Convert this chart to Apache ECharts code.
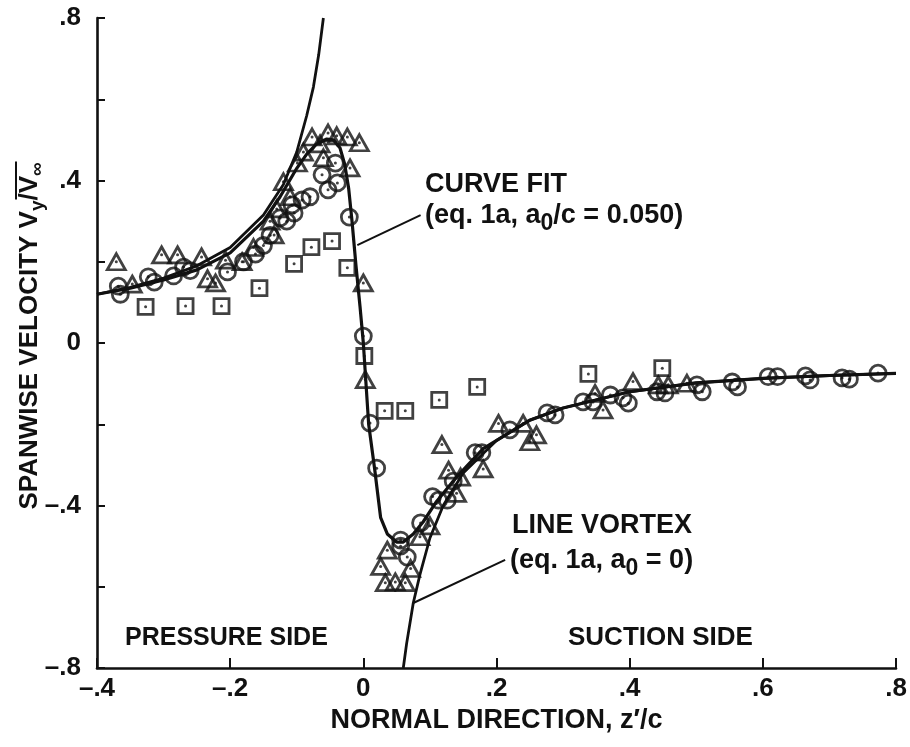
<!DOCTYPE html>
<html><head><meta charset="utf-8">
<script src="https://cdn.jsdelivr.net/npm/echarts@6/dist/echarts.min.js"></script>
<style>html,body{margin:0;padding:0;background:#fff}#c{width:910px;height:747px}</style>
</head><body><div id="c"></div>
<script>
// ---- data ----
const xTickValues = [-0.4, -0.2, 0, 0.2, 0.4, 0.6, 0.8];
const yTickValues = [-0.8, -0.4, 0, 0.4, 0.8];

const circles = [
  [-0.368,0.14],[-0.365,0.12],[-0.323,0.163],[-0.314,0.15],[-0.285,0.165],[-0.27,0.187],[-0.26,0.178],
  [-0.204,0.175],[-0.18,0.2],[-0.162,0.219],[-0.15,0.24],[-0.14,0.265],[-0.125,0.308],[-0.115,0.3],
  [-0.107,0.34],[-0.104,0.32],[-0.092,0.352],[-0.08,0.36],[-0.062,0.414],[-0.053,0.377],[-0.042,0.443],
  [-0.039,0.394],[-0.021,0.31],[0.0,0.017],[0.01,-0.197],[0.02,-0.308],[0.056,-0.5],[0.066,-0.527],
  [0.056,-0.485],[0.086,-0.443],[0.104,-0.378],[0.113,-0.387],[0.126,-0.387],[0.135,-0.34],[0.168,-0.27],
  [0.178,-0.27],[0.22,-0.214],[0.276,-0.172],[0.288,-0.177],[0.33,-0.145],[0.345,-0.145],[0.371,-0.128],
  [0.39,-0.135],[0.398,-0.148],[0.441,-0.12],[0.453,-0.123],[0.501,-0.103],[0.509,-0.12],[0.554,-0.096],
  [0.562,-0.108],[0.608,-0.083],[0.622,-0.083],[0.664,-0.081],[0.671,-0.091],[0.719,-0.086],[0.73,-0.089],
  [0.773,-0.074]
];
const triangles = [
  [-0.371,0.2],[-0.347,0.145],[-0.303,0.217],[-0.279,0.217],[-0.243,0.212],[-0.234,0.158],[-0.222,0.148],
  [-0.207,0.204],[-0.182,0.2],[-0.165,0.235],[-0.134,0.266],[-0.14,0.3],[-0.13,0.33],[-0.12,0.397],
  [-0.11,0.36],[-0.099,0.443],[-0.09,0.47],[-0.077,0.507],[-0.065,0.49],[-0.06,0.456],[-0.053,0.517],
  [-0.04,0.51],[-0.024,0.507],[-0.02,0.431],[-0.006,0.493],[0.0,0.148],[0.003,-0.09],[0.026,-0.55],
  [0.033,-0.59],[0.036,-0.51],[0.048,-0.588],[0.063,-0.59],[0.071,-0.555],[0.085,-0.477],[0.1,-0.45],
  [0.118,-0.25],[0.128,-0.313],[0.14,-0.37],[0.146,-0.33],[0.18,-0.31],[0.203,-0.198],[0.24,-0.198],
  [0.25,-0.243],[0.26,-0.226],[0.348,-0.124],[0.36,-0.165],[0.405,-0.095],[0.443,-0.103],[0.458,-0.103],
  [0.486,-0.099]
];
const squares = [
  [-0.327,0.089],[-0.267,0.091],[-0.213,0.091],[-0.156,0.135],[-0.104,0.195],[-0.078,0.236],[-0.047,0.251],
  [-0.024,0.185],[0.0015,-0.032],[0.032,-0.167],[0.063,-0.167],[0.114,-0.14],[0.171,-0.108],[0.338,-0.076],
  [0.449,-0.062]
];
const curveFit = [
  [-0.4,0.12],[-0.35,0.135],[-0.3,0.155],[-0.25,0.18],[-0.2,0.222],[-0.15,0.3],[-0.125,0.36],[-0.1,0.43],
  [-0.085,0.465],[-0.07,0.49],[-0.055,0.502],[-0.045,0.5],[-0.035,0.48],[-0.028,0.44],[-0.022,0.38],
  [-0.017,0.3],[-0.011,0.19],[-0.005,0.09],[0.0,0.0],[0.008,-0.2],[0.017,-0.31],[0.026,-0.43],[0.036,-0.47],
  [0.05,-0.49],[0.06,-0.49],[0.075,-0.47],[0.09,-0.44],[0.11,-0.39],[0.14,-0.33],[0.18,-0.26],
  [0.25,-0.19],[0.3,-0.16],[0.4,-0.12],[0.5,-0.098],[0.6,-0.087],[0.7,-0.08],[0.8,-0.075]
];
const lineVortexLeft = [
  [-0.4,0.12],[-0.35,0.137],[-0.3,0.16],[-0.25,0.19],[-0.2,0.235],[-0.15,0.315],[-0.12,0.39],
  [-0.1,0.47],[-0.085,0.56],[-0.075,0.63],[-0.067,0.71],[-0.06,0.8]
];
const lineVortexRight = [
  [0.06,-0.8],[0.065,-0.74],[0.075,-0.64],[0.085,-0.57],[0.1,-0.48],[0.12,-0.40],[0.15,-0.32],
  [0.2,-0.24],[0.25,-0.19],[0.3,-0.16],[0.4,-0.12],[0.5,-0.098],[0.6,-0.087],[0.7,-0.08],[0.8,-0.075]
];
const leaderCurveFit = [[-0.009,0.241],[0.086,0.315]];
const leaderLineVortex = [[0.075,-0.64],[0.213,-0.534]];

// ---- rendering ----
const FF = "'Liberation Sans', Arial, sans-serif";
const BLK = '#111';
const chart = echarts.init(document.getElementById('c'), null, {renderer: 'canvas'});

const cv = document.createElement('canvas').getContext('2d');
function tw(t, size) { cv.font = 'bold ' + size + 'px ' + FF; return cv.measureText(t).width; }

function fmt(v, everyOther) {
  const r = Math.round(v * 10) / 10;
  if (Math.abs(r) < 1e-9) return '0';
  if (everyOther && Math.round(r * 10) % 4 !== 0) return '';
  const s = Math.abs(r).toFixed(1).replace(/^0/, '');
  return (r < 0 ? '–' : '') + s;
}

function scatter(name, data, symbol, size) {
  return {
    name, type: 'scatter', data, symbol, symbolSize: size,
    itemStyle: { color: 'rgba(0,0,0,0)', borderColor: BLK, borderWidth: 2.8 },
    z: 3, silent: true
  };
}
function dots(data) {
  return { type: 'scatter', data, symbol: 'circle', symbolSize: 3, itemStyle: { color: BLK }, z: 4, silent: true };
}
function line(data, w) {
  return { type: 'line', data, showSymbol: false, symbol: 'none', lineStyle: { color: BLK, width: w }, z: 5, silent: true };
}

// y-axis title, composed piece by piece (rotated group)
const TS = 26, SS = 19;
const t1 = 'SPANWISE VELOCITY V';
const w1 = tw(t1, TS), wy = tw('y', SS), ws = tw('/', TS), wV = tw('V', TS), wi = tw('∞', SS);
const totalW = w1 + wy + ws + wV + wi;
const yTitle = {
  type: 'group', x: 30, y: 336 + totalW / 2, rotation: Math.PI / 2,
  children: [
    { type: 'text', x: 0, y: 0, style: { text: t1, font: 'bold ' + TS + 'px ' + FF, fill: BLK, verticalAlign: 'middle' } },
    { type: 'text', x: w1, y: 8, style: { text: 'y', font: 'bold ' + SS + 'px ' + FF, fill: BLK, verticalAlign: 'middle' } },
    { type: 'text', x: w1 + wy, y: 0, style: { text: '/', font: 'bold ' + TS + 'px ' + FF, fill: BLK, verticalAlign: 'middle' } },
    { type: 'text', x: w1 + wy + ws, y: 0, style: { text: 'V', font: 'bold ' + TS + 'px ' + FF, fill: BLK, verticalAlign: 'middle' } },
    { type: 'text', x: w1 + wy + ws + wV, y: 8, style: { text: '∞', font: 'bold ' + SS + 'px ' + FF, fill: BLK, verticalAlign: 'middle' } },
    { type: 'line', shape: { x1: w1 + wy + 1, y1: -14, x2: totalW + 1, y2: -14 }, style: { stroke: BLK, lineWidth: 2 } }
  ]
};

function label(x, y, text, size, rich) {
  const st = { text, font: 'bold ' + size + 'px ' + FF, fill: BLK, verticalAlign: 'middle', align: 'left' };
  if (rich) st.rich = rich;
  return { type: 'text', x, y, style: st };
}
const subRich = { s: { fontSize: 23, fontFamily: FF, fontWeight: 'bold', color: BLK, padding: [16, 0, 0, 0], verticalAlign: 'bottom' } };

const option = {
  animation: false,
  backgroundColor: '#fff',
  grid: { left: 97, right: 14, top: 18, bottom: 79, containLabel: false },
  xAxis: {
    type: 'value', min: xTickValues[0], max: xTickValues[xTickValues.length - 1], interval: 0.2,
    axisLine: { onZero: false, lineStyle: { color: BLK, width: 2.6 } },
    axisTick: { inside: true, length: 10, lineStyle: { color: BLK, width: 2 } },
    axisLabel: { formatter: v => fmt(v, false), color: BLK, fontFamily: FF, fontWeight: 'bold', fontSize: 26, margin: 8 },
    splitLine: { show: false },
    name: 'NORMAL DIRECTION, z′/c', nameLocation: 'middle', nameGap: 36,
    nameTextStyle: { color: BLK, fontFamily: FF, fontWeight: 'bold', fontSize: 27 }
  },
  yAxis: {
    type: 'value', min: yTickValues[0], max: yTickValues[yTickValues.length - 1], interval: 0.2,
    axisLine: { show: true, onZero: false, lineStyle: { color: BLK, width: 2.6 } },
    axisTick: { show: true, inside: true, length: 8, lineStyle: { color: BLK, width: 2 } },
    axisLabel: { formatter: v => fmt(v, true), color: BLK, fontFamily: FF, fontWeight: 'bold', fontSize: 26, margin: 16 },
    splitLine: { show: false }
  },
  series: [
    scatter('circles', circles, 'circle', 16), dots(circles),
    scatter('triangles', triangles, 'triangle', [18, 16]), dots(triangles),
    scatter('squares', squares, 'rect', 15), dots(squares),
    line(curveFit, 3.2), line(lineVortexLeft, 2.8), line(lineVortexRight, 2.8),
    line(leaderCurveFit, 2), line(leaderLineVortex, 2)
  ],
  graphic: [
    yTitle,
    label(425, 185, 'CURVE FIT', 27),
    label(425, 216, '(eq. 1a, a{s|0}/c = 0.050)', 27, subRich),
    label(512, 526, 'LINE VORTEX', 27),
    label(510, 561, '(eq. 1a, a{s|0} = 0)', 27, subRich),
    label(125, 638, 'PRESSURE SIDE', 25),
    label(568, 638, 'SUCTION SIDE', 26)
  ]
};
chart.setOption(option);
</script>
</body></html>
